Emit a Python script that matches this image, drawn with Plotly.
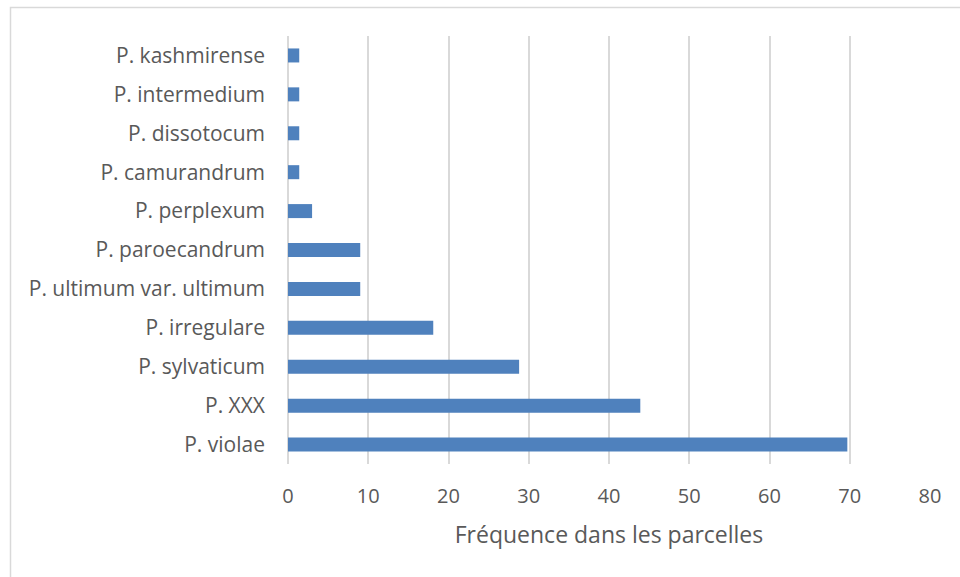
import plotly.graph_objects as go

# Pythium species, listed bottom-to-top as drawn on the y axis
species = [
    "P. violae",
    "P. XXX",
    "P. sylvaticum",
    "P. irregulare",
    "P. ultimum var. ultimum",
    "P. paroecandrum",
    "P. perplexum",
    "P. camurandrum",
    "P. dissotocum",
    "P. intermedium",
    "P. kashmirense",
]
frequency = [69.7, 43.9, 28.8, 18.1, 9.0, 9.0, 3.0, 1.4, 1.4, 1.4, 1.4]

x_ticks = [0, 10, 20, 30, 40, 50, 60, 70, 80]

FONT = "Open Sans"
TEXT = "#595959"
GRID = "#d9d9d9"

fig = go.Figure(
    go.Bar(
        x=frequency,
        y=species,
        orientation="h",
        marker=dict(color="#4f81bd", line=dict(width=0)),
        width=0.36,
        hoverinfo="x+y",
    )
)

fig.update_layout(
    width=960,
    height=577,
    margin=dict(l=288, r=30, t=36, b=113, autoexpand=False),
    paper_bgcolor="white",
    plot_bgcolor="white",
    showlegend=False,
    font=dict(family=FONT, color=TEXT, size=20),
    xaxis=dict(
        range=[0, 80],
        tickvals=x_ticks,
        showgrid=True,
        gridcolor=GRID,
        gridwidth=1.5,
        zeroline=True,
        zerolinecolor=GRID,
        zerolinewidth=1.5,
        showline=False,
        ticks="",
        ticklabelstandoff=18,
        tickfont=dict(family=FONT, size=20, color=TEXT),
        title=dict(
            text="Fréquence dans les parcelles",
            font=dict(family=FONT, size=23, color=TEXT),
            standoff=18,
        ),
        fixedrange=True,
    ),
    yaxis=dict(
        type="category",
        categoryorder="array",
        categoryarray=species,
        showgrid=False,
        zeroline=False,
        showline=False,
        ticks="",
        ticklabelstandoff=22,
        tickfont=dict(family=FONT, size=21, color=TEXT),
        fixedrange=True,
    ),
    shapes=[
        dict(
            type="rect",
            xref="paper",
            yref="paper",
            x0=(10.5 - 288) / 642,
            x1=1.2,
            y0=-0.4,
            y1=1 + (36 - 7.5) / 428,
            line=dict(color=GRID, width=1.5),
            fillcolor="rgba(0,0,0,0)",
            layer="below",
        )
    ],
)

fig.write_html("out.html")
